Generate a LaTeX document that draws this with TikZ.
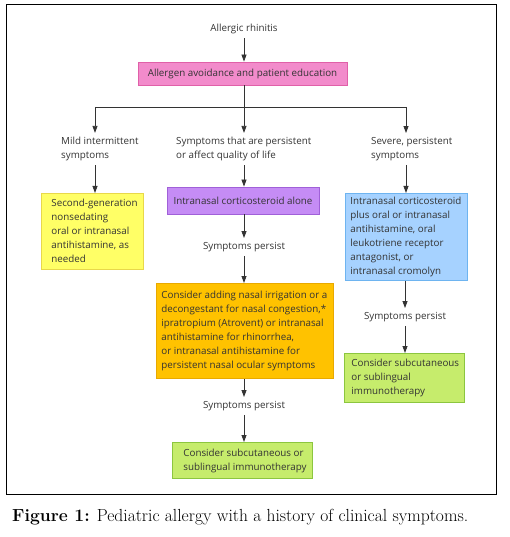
\documentclass[tikz,border=0pt]{standalone}
\usepackage{fontspec}
\newfontfamily\diagfont{Open Sans}
\usetikzlibrary{arrows.meta}
\definecolor{txt}{HTML}{333333}
\definecolor{pinkF}{HTML}{F28BCB}\definecolor{pinkD}{HTML}{E060A8}
\definecolor{purF}{HTML}{C58CF5}\definecolor{purD}{HTML}{A060D8}
\definecolor{yelF}{HTML}{FFFF66}\definecolor{yelD}{HTML}{E8D84A}
\definecolor{bluF}{HTML}{A6D2FF}\definecolor{bluD}{HTML}{6EB4F0}
\definecolor{oraF}{HTML}{FFC200}\definecolor{oraD}{HTML}{E8A900}
\definecolor{greF}{HTML}{C6EC6C}\definecolor{greD}{HTML}{8CC63F}
\newcommand\blocktext[2]{\makebox[#1][l]{\begin{tabular}{@{}l@{}}#2\end{tabular}}}
\begin{document}
\begin{tikzpicture}[x=1pt,y=-1pt,
  every node/.style={text=txt, font=\diagfont\fontsize{9.8}{14}\selectfont},
  lbl/.style={inner xsep=2pt, inner ysep=4pt, align=left},
  box/.style={line width=0.8pt, inner ysep=0pt, anchor=north west},
  arr/.style={draw=txt, line width=0.8pt, -{Triangle[width=5pt,length=7pt]}},
  ln/.style={draw=txt, line width=0.8pt}]
\useasboundingbox (0,0) rectangle (510,537);
\draw[line width=1pt] (6,5) rectangle (496,494);

\node[lbl] (ar) at (244,29) {Allergic rhinitis};
\node[line width=0.8pt, draw=pinkD, fill=pinkF, minimum width=209pt, minimum height=23pt, inner sep=0pt] (pink) at (242.5,73.5) {Allergen avoidance and patient education};

\coordinate (hb) at (244,107);
\coordinate (hL) at (95,107);
\coordinate (hR) at (406,107);

\node[lbl, anchor=west] (mild) at (59,149) {Mild intermittent\\symptoms};
\node[lbl, anchor=west] (mid) at (174,149) {Symptoms that are persistent\\or affect quality of life};
\node[lbl, anchor=west] (sev) at (369,149) {Severe, persistent\\symptoms};

\node[box, draw=yelD, fill=yelF, inner xsep=10pt, minimum height=76pt] (yel) at (41,193)
  {\blocktext{82pt}{Second-generation\\nonsedating\\oral or intranasal\\antihistamine, as\\needed}};
\node[line width=0.8pt, draw=purD, fill=purF, minimum width=152pt, minimum height=27pt, inner sep=0pt] (pur) at (243,200.5) {Intranasal corticosteroid alone};
\node[box, draw=bluD, fill=bluF, inner xsep=5pt, minimum height=87pt] (blu) at (345,193)
  {\blocktext{112pt}{Intranasal corticosteroid\\plus oral or intranasal\\antihistamine, oral\\leukotriene receptor\\antagonist, or\\intranasal cromolyn}};

\node[lbl] (sp1) at (244,247) {Symptoms persist};
\node[box, draw=oraD, fill=oraF, inner xsep=5pt, minimum height=95pt] (ora) at (156,283)
  {\blocktext{167pt}{Consider adding nasal irrigation or a\\decongestant for nasal congestion,*\\ipratropium (Atrovent) or intranasal\\antihistamine for rhinorrhea,\\or intranasal antihistamine for\\persistent nasal ocular symptoms}};
\node[lbl] (sp2) at (244,406) {Symptoms persist};
\node[box, draw=greD, fill=greF, inner xsep=11pt, minimum height=36pt] (greB) at (172,442)
  {\blocktext{118pt}{Consider subcutaneous or\\sublingual immunotherapy}};

\node[lbl] (sp3) at (405,317) {Symptoms persist};
\node[box, draw=greD, fill=greF, inner xsep=7pt, minimum height=49pt] (greR) at (344,353)
  {\blocktext{106pt}{Consider subcutaneous\\or sublingual\\immunotherapy}};

\draw[arr] (ar) -- (pink.north -| ar);
\draw[ln] (pink.south -| hb) -- (hb);
\draw[ln] (hL) -- (hR);
\draw[arr] (hL) -- (hL |- mild.north);
\draw[arr] (hb) -- (hb |- mid.north);
\draw[arr] (hR) -- (hR |- sev.north);
\draw[arr] (hL |- mild.south) -- (hL |- yel.north);
\draw[arr] (hb |- mid.south) -- (hb |- pur.north);
\draw[arr] (hR |- sev.south) -- (hR |- blu.north);
\draw[arr] (hb |- pur.south) -- (sp1.north);
\draw[arr] (sp1.south) -- (sp1 |- ora.north);
\draw[arr] (sp2 |- ora.south) -- (sp2.north);
\draw[arr] (sp2.south) -- (sp2 |- greB.north);
\draw[arr] (sp3 |- blu.south) -- (sp3.north);
\draw[arr] (sp3.south) -- (sp3 |- greR.north);

\node[anchor=base west, text=black, font=\rmfamily\fontsize{17.5}{19}\selectfont, inner sep=0pt] (cap) at (12,521)
  {\textbf{Figure 1:} Pediatric allergy with a history of clinical symptoms.};
\end{tikzpicture}
\end{document}
